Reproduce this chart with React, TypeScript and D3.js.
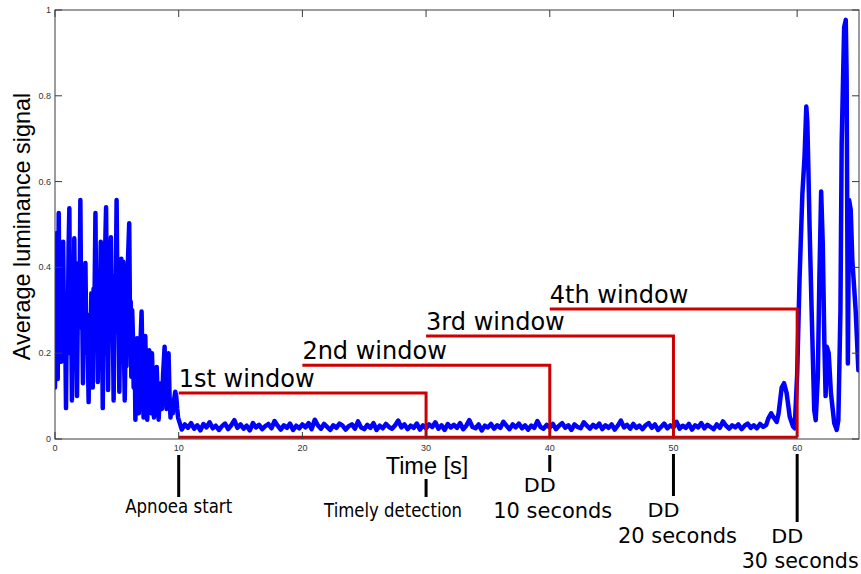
import React from "react";
import * as d3 from "d3";

// Breathing before the apnoea: (time [s], luminance) turning points
const breathingPhase: [number, number][] = [
  [0.0, 0.12], [0.05, 0.35], [0.1, 0.2], [0.16, 0.48], [0.22, 0.14], [0.3, 0.527], [0.38, 0.25], [0.44, 0.4],
  [0.5, 0.18], [0.58, 0.3], [0.66, 0.46], [0.74, 0.22], [0.8, 0.33], [0.89, 0.072], [0.96, 0.3], [1.02, 0.2],
  [1.1, 0.45], [1.16, 0.538], [1.23, 0.24], [1.28, 0.36], [1.37, 0.09], [1.44, 0.3], [1.5, 0.22], [1.56, 0.468],
  [1.62, 0.28], [1.68, 0.38], [1.78, 0.1], [1.85, 0.32], [1.91, 0.41], [1.97, 0.26], [2.05, 0.557], [2.12, 0.3],
  [2.18, 0.36], [2.26, 0.13], [2.33, 0.34], [2.4, 0.25], [2.46, 0.41], [2.54, 0.2], [2.6, 0.29], [2.72, 0.086],
  [2.8, 0.25], [2.86, 0.17], [2.94, 0.34], [3.0, 0.18], [3.05, 0.12], [3.12, 0.35], [3.18, 0.28], [3.27, 0.527],
  [3.34, 0.27], [3.4, 0.35], [3.46, 0.133], [3.54, 0.31], [3.6, 0.24], [3.7, 0.46], [3.76, 0.25], [3.8, 0.3],
  [3.86, 0.072], [3.93, 0.28], [3.99, 0.2], [4.06, 0.45], [4.13, 0.54], [4.2, 0.27], [4.24, 0.34], [4.29, 0.114],
  [4.36, 0.32], [4.42, 0.24], [4.52, 0.47], [4.58, 0.3], [4.64, 0.38], [4.74, 0.09], [4.82, 0.33], [4.88, 0.25],
  [4.98, 0.557], [5.06, 0.3], [5.12, 0.38], [5.2, 0.11], [5.28, 0.3], [5.36, 0.42], [5.44, 0.22], [5.52, 0.413],
  [5.58, 0.2], [5.64, 0.09], [5.72, 0.26], [5.78, 0.17], [5.88, 0.4], [6.0, 0.503], [6.07, 0.25], [6.12, 0.32],
  [6.17, 0.145], [6.24, 0.3], [6.3, 0.24], [6.36, 0.12], [6.44, 0.2], [6.5, 0.045], [6.58, 0.2], [6.63, 0.235],
  [6.7, 0.13], [6.78, 0.06], [6.88, 0.2], [7.0, 0.297], [7.08, 0.16], [7.16, 0.05], [7.24, 0.18], [7.3, 0.24],
  [7.38, 0.12], [7.46, 0.045], [7.54, 0.18], [7.62, 0.207], [7.7, 0.1], [7.76, 0.06], [7.84, 0.2], [7.92, 0.12],
  [8.0, 0.05], [8.1, 0.12], [8.22, 0.168], [8.3, 0.1], [8.38, 0.045], [8.48, 0.11], [8.56, 0.13], [8.64, 0.07],
  [8.74, 0.15], [8.86, 0.215], [8.94, 0.14], [9.02, 0.07], [9.1, 0.17], [9.18, 0.2], [9.26, 0.1], [9.34, 0.05],
  [9.42, 0.08], [9.52, 0.06], [9.62, 0.09], [9.72, 0.11], [9.8, 0.1], [9.88, 0.07], [9.95, 0.05],
];

// Apnoea: luminance sampled every 0.25 s from 10 s to 57.5 s
const apnoeaStart = 10;
const apnoeaStep = 0.25;
const apnoeaPhase: number[] = [
  0.045, 0.022, 0.034, 0.026, 0.037, 0.024, 0.032, 0.02, 0.035, 0.027,
  0.039, 0.025, 0.031, 0.021, 0.03, 0.036, 0.023, 0.032, 0.044, 0.026,
  0.034, 0.024, 0.031, 0.02, 0.037, 0.027, 0.033, 0.023, 0.03, 0.035,
  0.025, 0.042, 0.031, 0.022, 0.032, 0.026, 0.036, 0.021, 0.031, 0.025,
  0.034, 0.027, 0.037, 0.023, 0.045, 0.032, 0.024, 0.035, 0.028, 0.021,
  0.032, 0.026, 0.036, 0.031, 0.022, 0.03, 0.034, 0.024, 0.041, 0.027,
  0.023, 0.033, 0.026, 0.037, 0.021, 0.031, 0.025, 0.035, 0.028, 0.024,
  0.032, 0.043, 0.027, 0.034, 0.023, 0.031, 0.026, 0.036, 0.022, 0.032,
  0.025, 0.034, 0.028, 0.039, 0.024, 0.032, 0.021, 0.035, 0.027, 0.033,
  0.026, 0.037, 0.023, 0.031, 0.044, 0.028, 0.025, 0.034, 0.02, 0.031,
  0.027, 0.035, 0.024, 0.032, 0.026, 0.04, 0.031, 0.023, 0.034, 0.027,
  0.036, 0.025, 0.032, 0.022, 0.031, 0.026, 0.042, 0.028, 0.024, 0.033,
  0.027, 0.035, 0.023, 0.031, 0.037, 0.026, 0.032, 0.021, 0.034, 0.028,
  0.025, 0.039, 0.031, 0.024, 0.033, 0.027, 0.036, 0.023, 0.032, 0.026,
  0.034, 0.022, 0.031, 0.043, 0.027, 0.033, 0.024, 0.035, 0.026, 0.031,
  0.023, 0.032, 0.037, 0.026, 0.034, 0.021, 0.028, 0.036, 0.025, 0.032,
  0.027, 0.04, 0.024, 0.031, 0.026, 0.035, 0.022, 0.032, 0.027, 0.037,
  0.025, 0.033, 0.028, 0.023, 0.034, 0.026, 0.041, 0.031, 0.024, 0.032,
  0.027, 0.034, 0.023, 0.031, 0.036, 0.026, 0.032, 0.025, 0.035, 0.028,
  0.033,
];

// Breathing resumes: (time [s], luminance) turning points
const recoveryPhase: [number, number][] = [
  [57.67, 0.048], [57.9, 0.06], [58.1, 0.05], [58.35, 0.04], [58.5, 0.06], [58.75, 0.12], [58.94, 0.13],
  [59.15, 0.107], [59.4, 0.052], [59.67, 0.029], [59.8, 0.025], [60.0, 0.15], [60.2, 0.38], [60.42, 0.57],
  [60.6, 0.66], [60.74, 0.775], [60.82, 0.74], [60.9, 0.64], [61.0, 0.5], [61.17, 0.3], [61.38, 0.068],
  [61.5, 0.044], [61.67, 0.145], [61.8, 0.378], [61.94, 0.577], [62.07, 0.456], [62.2, 0.223], [62.3, 0.1],
  [62.4, 0.215], [62.55, 0.2], [62.73, 0.107], [63.0, 0.037], [63.2, 0.021], [63.33, 0.044], [63.5, 0.3],
  [63.6, 0.689], [63.8, 0.96], [63.93, 0.977], [64.0, 0.845], [64.06, 0.456], [64.1, 0.176], [64.2, 0.557],
  [64.33, 0.534], [64.46, 0.417], [64.73, 0.3], [64.95, 0.16],
];

const xTicks = [0, 10, 20, 30, 40, 50, 60];
const yTicks = [0, 0.2, 0.4, 0.6, 0.8, 1];
const yTickLabels = ["0", "0.2", "0.4", "0.6", "0.8", "1"];

// Detection windows
const windowLabels = ["1st window", "2nd window", "3rd window", "4th window"];
const windowStarts = [10, 20, 30, 40];
const windowEnds = [30, 40, 50, 60];
const windowLevels = [0.107, 0.172, 0.24, 0.303];
const windowBase = 0.004;

// Event markers below the time axis
const eventTimes = [10, 30, 40, 50, 60];
const eventTexts = [
  ["Apnoea start"],
  ["Timely detection"],
  ["DD", "10 seconds"],
  ["DD", "20 seconds"],
  ["DD", "30 seconds"],
];

// Marker layout: bar extent and text placement (pixels)
const eventLayout = [
  { barTop: 455, barBottom: 497, lines: [{ y: 512.5, dx: 0, size: 19, len: 107 }] },
  { barTop: 479, barBottom: 497, lines: [{ y: 517, dx: -33, size: 19, len: 138 }] },
  { barTop: 455, barBottom: 472, lines: [{ y: 491.5, dx: -10, size: 19, len: 32 }, { y: 518, dx: 3, size: 21, len: 119 }] },
  { barTop: 454, barBottom: 496, lines: [{ y: 517, dx: -10, size: 19, len: 32 }, { y: 543, dx: 4, size: 21, len: 119 }] },
  { barTop: 454, barBottom: 522, lines: [{ y: 542.5, dx: -10, size: 19, len: 32 }, { y: 567.5, dx: 3, size: 21, len: 117 }] },
];

const W = 861;
const H = 574;
const M = { left: 55, right: 859, top: 10, bottom: 439 };

export default function App() {
  const x = d3.scaleLinear().domain([0, 65]).range([M.left, M.right]);
  const y = d3.scaleLinear().domain([0, 1]).range([M.bottom, M.top]);

  const series: [number, number][] = [
    ...breathingPhase,
    ...apnoeaPhase.map((v, i) => [apnoeaStart + i * apnoeaStep, v] as [number, number]),
    ...recoveryPhase,
  ];
  const line = d3
    .line<[number, number]>()
    .x((d) => x(d[0]))
    .y((d) => y(d[1]));

  const red = "#cc0000";
  const axisColor = "#3a3a3a";
  const tickLen = 7;

  const windowPath = (i: number) =>
    `M${x(windowStarts[i])},${y(windowLevels[i])}H${x(windowEnds[i])}V${y(windowBase)}`;

  return (
    <svg
      width={W}
      height={H}
      style={{ position: "absolute", left: 0, top: 0, background: "#fff" }}
    >
      <defs>
        <clipPath id="plotArea">
          <rect x={M.left} y={M.top} width={M.right - M.left} height={M.bottom - M.top} />
        </clipPath>
      </defs>

      {/* signal */}
      <path
        d={line(series) || ""}
        fill="none"
        stroke="#0000ff"
        strokeWidth={4.5}
        strokeLinejoin="round"
        strokeLinecap="round"
        clipPath="url(#plotArea)"
      />

      {/* detection windows */}
      <g fill="none" stroke={red} strokeWidth={3}>
        <line x1={x(windowStarts[0])} x2={x(windowEnds[3])} y1={y(windowBase)} y2={y(windowBase)} />
        {windowLabels.map((_, i) => (
          <path key={i} d={windowPath(i)} />
        ))}
      </g>
      <g fontFamily="DejaVu Sans" fontSize={24} fill="#000">
        {windowLabels.map((t, i) => (
          <text key={t} x={x(windowStarts[i])} y={y(windowLevels[i]) - 6}>
            {t}
          </text>
        ))}
      </g>

      {/* axes box */}
      <rect
        x={M.left}
        y={M.top}
        width={M.right - M.left}
        height={M.bottom - M.top}
        fill="none"
        stroke={axisColor}
        strokeWidth={1}
      />
      <g stroke={axisColor} strokeWidth={1}>
        {xTicks.map((t) => (
          <g key={t}>
            <line x1={x(t)} x2={x(t)} y1={M.top} y2={M.top + tickLen} />
            <line x1={x(t)} x2={x(t)} y1={M.bottom} y2={M.bottom - tickLen} />
          </g>
        ))}
        {yTicks.map((t) => (
          <g key={t}>
            <line x1={M.left} x2={M.left + tickLen} y1={y(t)} y2={y(t)} />
            <line x1={M.right} x2={M.right - tickLen} y1={y(t)} y2={y(t)} />
          </g>
        ))}
      </g>
      <g fontFamily="Liberation Sans, Arial, sans-serif" fontSize={9} fill="#333">
        {xTicks.map((t) => (
          <text key={t} x={x(t)} y={M.bottom + 12} textAnchor="middle">
            {t}
          </text>
        ))}
        {yTicks.map((t, i) => (
          <text key={t} x={M.left - 4} y={y(t) + 3} textAnchor="end">
            {yTickLabels[i]}
          </text>
        ))}
      </g>

      {/* axis titles */}
      <text
        x={427}
        y={474}
        textAnchor="middle"
        fontFamily="Liberation Sans, Arial, sans-serif"
        fontSize={23.5}
        fill="#000"
      >
        Time [s]
      </text>
      <text
        transform={`translate(30,${(M.top + M.bottom) / 2 + 2}) rotate(-90)`}
        textAnchor="middle"
        fontFamily="Liberation Sans, Arial, sans-serif"
        fontSize={23.4}
        fill="#000"
      >
        Average luminance signal
      </text>

      {/* event markers */}
      {eventTimes.map((t, i) => {
        const lay = eventLayout[i];
        return (
          <g key={t}>
            <line
              x1={x(t)}
              x2={x(t)}
              y1={lay.barTop}
              y2={lay.barBottom}
              stroke="#000"
              strokeWidth={3}
            />
            {eventTexts[i].map((s, j) => {
              const l = lay.lines[j];
              return (
                <text
                  key={s}
                  x={x(t) + l.dx}
                  y={l.y}
                  textAnchor="middle"
                  fontFamily="DejaVu Sans"
                  fontSize={l.size}
                  textLength={l.len}
                  lengthAdjust="spacingAndGlyphs"
                  fill="#000"
                >
                  {s}
                </text>
              );
            })}
          </g>
        );
      })}
    </svg>
  );
}
